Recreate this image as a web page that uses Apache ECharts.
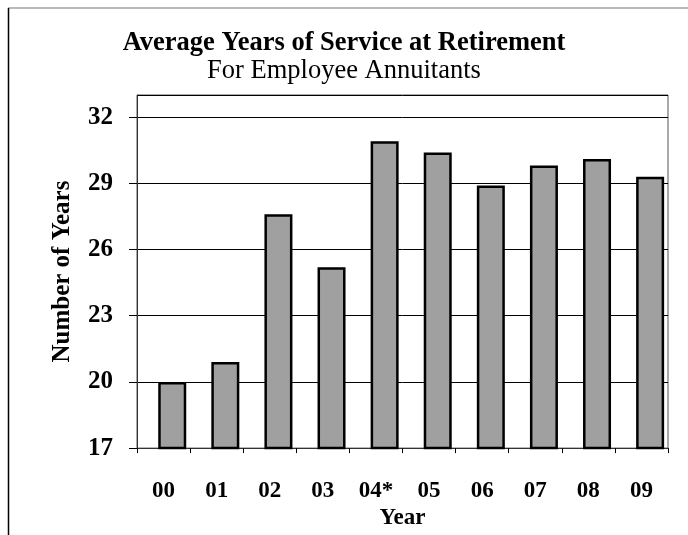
<!DOCTYPE html>
<html>
<head>
<meta charset="utf-8">
<script src="https://cdn.jsdelivr.net/npm/echarts@6/dist/echarts.min.js"></script>
<style>
html,body{margin:0;padding:0;background:#fff;}
#chart{width:688px;height:535px;}
</style>
</head>
<body>
<div id="chart"></div>
<script>
var categories = ['00','01','02','03','04*','05','06','07','08','09'];
var values = [20.0, 20.9, 27.6, 25.2, 30.9, 30.4, 28.9, 29.8, 30.1, 29.3];
var yTicks = [17, 20, 23, 26, 29, 32];
// empty spacer series (no marks), reproduces the right-shifted bars of the original
var spacer = categories.map(function () { return '-'; });

var serif = '"Liberation Serif","DejaVu Serif",serif';
var chart = echarts.init(document.getElementById('chart'));
chart.setOption({
  backgroundColor: '#ffffff',
  animation: false,
  title: [
    {text: 'Average Years of Service at Retirement', left: 'center', top: 25,
     textStyle: {fontFamily: serif, fontSize: 26.5, fontWeight: 'bold', color: '#000'}},
    {text: 'For Employee Annuitants', left: 'center', top: 53,
     textStyle: {fontFamily: serif, fontSize: 26.5, fontWeight: 'normal', color: '#000'}}
  ],
  grid: {left: 137, right: 20, top: 95, bottom: 83, show: true, borderColor: '#555', borderWidth: 1},
  xAxis: {
    type: 'category', data: categories,
    name: 'Year', nameLocation: 'middle', nameGap: 57,
    nameTextStyle: {fontFamily: serif, fontSize: 23, fontWeight: 'bold', color: '#000'},
    axisLine: {lineStyle: {color: '#333', width: 1}},
    axisTick: {show: true, length: 5, lineStyle: {color: '#000'}},
    axisLabel: {fontFamily: serif, fontSize: 23, fontWeight: 'bold', color: '#000', margin: 31}
  },
  yAxis: {
    type: 'value', min: 17, max: 33, interval: 3,
    name: 'Number of Years', nameLocation: 'middle', nameGap: 62, nameRotate: 90,
    nameTextStyle: {fontFamily: serif, fontSize: 25, fontWeight: 'bold', color: '#000'},
    axisLine: {show: true, lineStyle: {color: '#333', width: 1}},
    axisTick: {show: true, length: 8, lineStyle: {color: '#000'}},
    axisLabel: {fontFamily: serif, fontSize: 25, fontWeight: 'bold', color: '#000', margin: 24,
      showMaxLabel: false,
      formatter: function (v) { return yTicks.indexOf(v) >= 0 ? String(v) : ''; }},
    splitLine: {show: true, lineStyle: {color: '#000', width: 1}}
  },
  series: [
    {type: 'bar', data: spacer, barWidth: 28, silent: true},
    {type: 'bar', data: values, barWidth: 28, barGap: '-38%',
     itemStyle: {color: '#a0a0a0', borderColor: '#000', borderWidth: 2.5}}
  ],
  graphic: [
    {type: 'line', shape: {x1: 8, y1: 8, x2: 688, y2: 8}, style: {stroke: '#777', lineWidth: 1.2}},
    {type: 'line', shape: {x1: 8.5, y1: 8, x2: 8.5, y2: 535}, style: {stroke: '#000', lineWidth: 1.5}}
  ]
});
</script>
</body>
</html>
